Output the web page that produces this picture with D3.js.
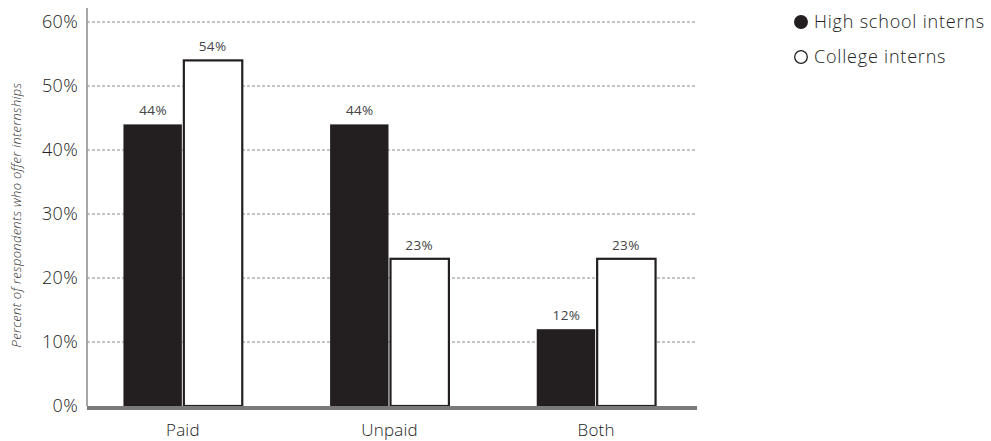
<!DOCTYPE html>
<html>
<head>
<meta charset="utf-8">
<script src="https://cdn.jsdelivr.net/npm/d3@7"></script>
<style>
  html, body { margin: 0; padding: 0; background: #fff; }
  svg { display: block; font-family: "Open Sans", "Noto Sans", sans-serif; font-weight: 300; }
</style>
</head>
<body>
<svg id="chart" width="991" height="441"></svg>
<script>
// Internship pay type by intern level
const categories = ["Paid", "Unpaid", "Both"];
const seriesNames = ["High school interns", "College interns"];
const highSchool = [44, 44, 12];
const college = [54, 23, 23];
const yTicks = [0, 10, 20, 30, 40, 50, 60];
const yTitle = "Percent of respondents who offer internships";

(function draw() {
  const svg = d3.select("#chart");
  const plotLeft = 87, plotRight = 697, plotTop = 22, plotBottom = 406;
  const textColor = "#222";

  const x = d3.scaleBand().domain(categories).range([85, 694])
    .paddingInner(0.425).paddingOuter(0.186);
  const xs = d3.scaleBand().domain([0, 1]).range([0, x.bandwidth()]);
  const y = d3.scaleLinear().domain([0, 60]).range([plotBottom, plotTop]);

  // dashed gridlines
  svg.append("g").selectAll("line")
    .data(yTicks.filter(d => d > 0))
    .join("line")
    .attr("x1", plotLeft).attr("x2", plotRight)
    .attr("y1", d => y(d)).attr("y2", d => y(d))
    .attr("stroke", "#8a8a8a").attr("stroke-width", 1)
    .attr("stroke-dasharray", "3,2");

  // y axis
  const yAxis = svg.append("g")
    .attr("transform", `translate(${plotLeft},0)`)
    .call(d3.axisLeft(y).tickValues(yTicks).tickFormat(d => d + "%").tickSize(0).tickPadding(9));
  yAxis.select(".domain").attr("stroke", "#8a8a8a").attr("stroke-width", 1.5)
    .attr("d", `M0,8V${plotBottom}`);
  yAxis.selectAll("text").attr("font-size", 18).attr("letter-spacing", 0.3)
    .attr("fill", textColor).attr("font-family", "Open Sans, sans-serif")
    .attr("font-weight", 300);

  // y axis title
  svg.append("text")
    .attr("transform", `translate(21,${(plotTop + plotBottom) / 2 + 1}) rotate(-90)`)
    .attr("text-anchor", "middle")
    .attr("font-size", 13).attr("letter-spacing", 0.3)
    .attr("font-style", "italic").attr("fill", "#333")
    .text(yTitle);

  // bars
  const rows = categories.map((c, i) => ({ cat: c, vals: [highSchool[i], college[i]] }));
  const groups = svg.append("g").selectAll("g").data(rows).join("g")
    .attr("transform", d => `translate(${x(d.cat)},0)`);

  groups.selectAll("rect")
    .data(d => d.vals.map((v, k) => ({ v, k })))
    .join("rect")
    .attr("x", d => xs(d.k) + (d.k === 1 ? 1 : 0))
    .attr("width", d => xs.bandwidth() - 1)
    .attr("y", d => y(d.v))
    .attr("height", d => y(0) - y(d.v))
    .attr("fill", d => d.k === 0 ? "#231f20" : "#fff")
    .attr("stroke", d => d.k === 0 ? "none" : "#231f20")
    .attr("stroke-width", 2.2);

  // value labels
  groups.selectAll("text.val")
    .data(d => d.vals.map((v, k) => ({ v, k })))
    .join("text")
    .attr("class", "val")
    .attr("x", d => xs(d.k) + xs.bandwidth() / 2)
    .attr("y", d => y(d.v) - 9)
    .attr("text-anchor", "middle")
    .attr("font-size", 13.5).attr("font-weight", 400).attr("letter-spacing", 0.4)
    .attr("fill", "#444")
    .text(d => d.v + "%");

  // baseline
  svg.append("line")
    .attr("x1", plotLeft).attr("x2", plotRight)
    .attr("y1", plotBottom + 2).attr("y2", plotBottom + 2)
    .attr("stroke", "#7a7a7a").attr("stroke-width", 4);

  // category labels
  svg.append("g").selectAll("text").data(categories).join("text")
    .attr("x", d => x(d) + x.bandwidth() / 2)
    .attr("y", 436)
    .attr("text-anchor", "middle")
    .attr("font-size", 17).attr("letter-spacing", 0.2).attr("fill", textColor)
    .text(d => d);

  // legend
  const legend = svg.append("g").attr("transform", "translate(801,22)");
  const li = legend.selectAll("g").data(seriesNames).join("g")
    .attr("transform", (d, i) => `translate(0,${i * 35})`);
  li.append("circle").attr("r", 6.3)
    .attr("fill", (d, i) => i === 0 ? "#231f20" : "#fff")
    .attr("stroke", "#231f20").attr("stroke-width", 1.3);
  li.append("text").attr("x", 13).attr("dy", "0.35em")
    .attr("font-size", 18).attr("letter-spacing", 0.8).attr("fill", textColor)
    .text(d => d);
})();
</script>
</body>
</html>
